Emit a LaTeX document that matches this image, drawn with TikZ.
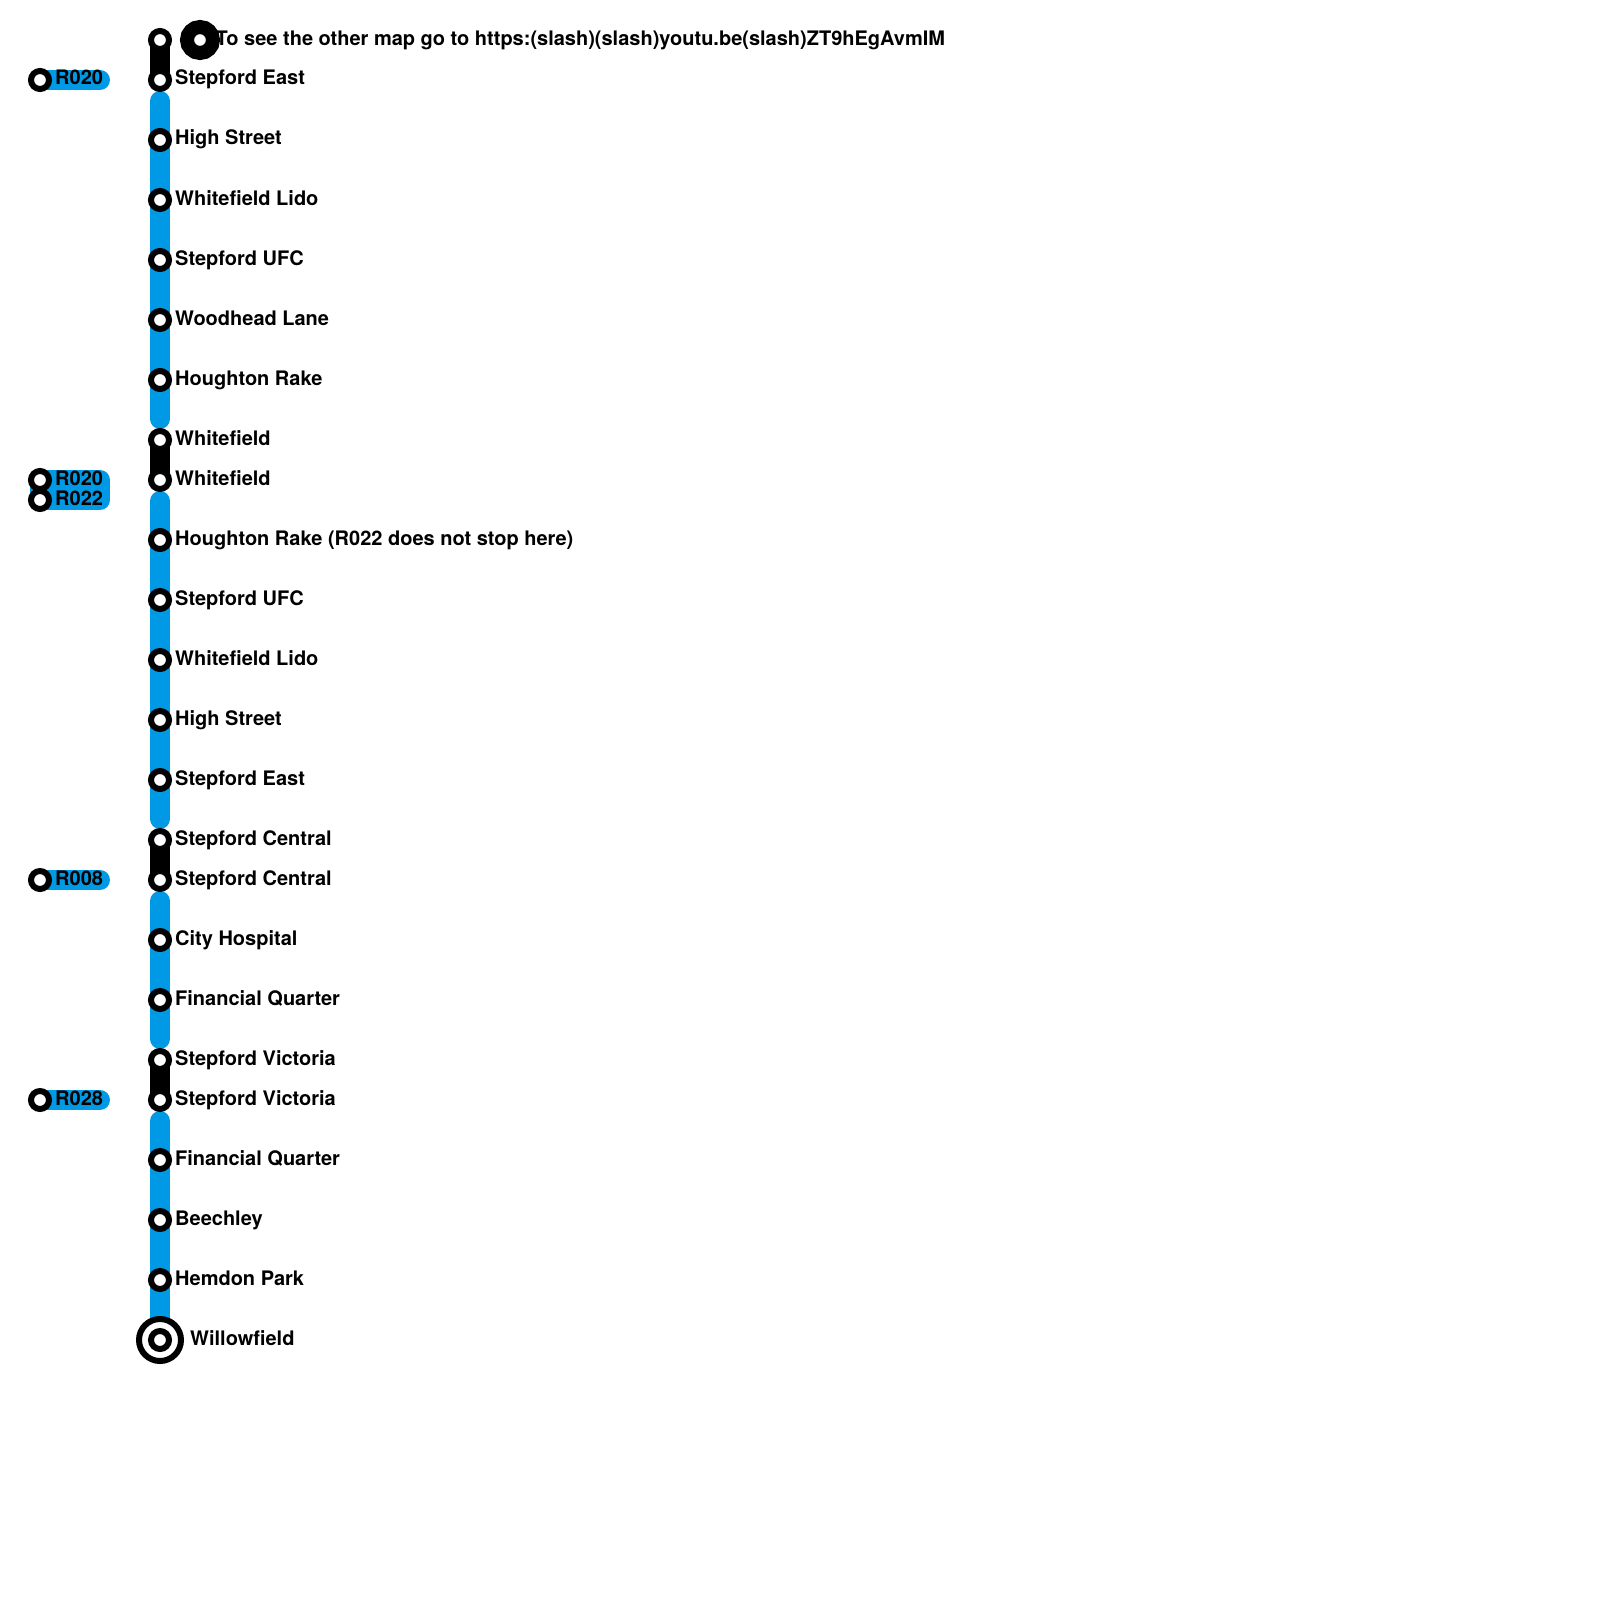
\documentclass[tikz,border=0pt]{standalone}
\usepackage{fontspec}
\setmainfont{TeX Gyre Heros}
\usetikzlibrary{backgrounds}

\definecolor{linkblue}{RGB}{0,153,229}
\tikzset{
  stop/.style={draw,circle,fill=white,line width=6pt,minimum size=18pt,inner sep=0pt},
  endstop/.style={draw,circle,fill=white,line width=6pt,minimum size=42pt,inner sep=0pt},
  otherstop/.style={draw,circle,fill=white,line width=14pt,minimum size=26pt,inner sep=0pt},
  stopname/.style={anchor=base west,inner sep=0pt,font=\bfseries\fontsize{20}{24}\selectfont},
  walk/.style={line width=20pt,line cap=round},
  ride/.style={line width=20pt,line cap=round,linkblue,shorten <=21pt,shorten >=21pt},
  tag/.style={line width=20pt,line cap=round,line join=round,linkblue}
}

\begin{document}
\begin{tikzpicture}[x=1pt,y=-1pt]
\useasboundingbox (0,0) rectangle (1600,1600);
% stops on the line
\node[stop] (S1) at (160,40) {};
\node[stop] (S2) at (160,80) {};
\node[stop] (S3) at (160,140) {};
\node[stop] (S4) at (160,200) {};
\node[stop] (S5) at (160,260) {};
\node[stop] (S6) at (160,320) {};
\node[stop] (S7) at (160,380) {};
\node[stop] (S8) at (160,440) {};
\node[stop] (S9) at (160,480) {};
\node[stop] (S10) at (160,540) {};
\node[stop] (S11) at (160,600) {};
\node[stop] (S12) at (160,660) {};
\node[stop] (S13) at (160,720) {};
\node[stop] (S14) at (160,780) {};
\node[stop] (S15) at (160,840) {};
\node[stop] (S16) at (160,880) {};
\node[stop] (S17) at (160,940) {};
\node[stop] (S18) at (160,1000) {};
\node[stop] (S19) at (160,1060) {};
\node[stop] (S20) at (160,1100) {};
\node[stop] (S21) at (160,1160) {};
\node[stop] (S22) at (160,1220) {};
\node[stop] (S23) at (160,1280) {};
\node[endstop] (S24) at (160,1340) {};
\node[stop] (S24i) at (160,1340) {};
\node[otherstop] (M) at (200,40) {};
% route tags
\node[stop] (R1) at (40,80) {};
\node[stop] (R2) at (40,480) {};
\node[stop] (R3) at (40,500) {};
\node[stop] (R4) at (40,880) {};
\node[stop] (R5) at (40,1100) {};
\coordinate (T1) at (100,80);
\coordinate (T2) at (100,480);
\coordinate (T3) at (100,500);
\coordinate (T4) at (100,880);
\coordinate (T5) at (100,1100);
% lines go underneath
\begin{scope}[on background layer]
\draw[walk] (S1.center) -- (S2.center);
\draw[walk] (S8.center) -- (S9.center);
\draw[walk] (S15.center) -- (S16.center);
\draw[walk] (S19.center) -- (S20.center);
\draw[ride] (S2.center) -- (S8.center);
\draw[ride] (S9.center) -- (S15.center);
\draw[ride] (S16.center) -- (S19.center);
\draw[ride,shorten >=0pt] (S20.center) -- (S24.center);
\draw[tag] (R1.center) -- (T1);
\draw[tag,fill=linkblue] (R2.center) -- (T2) -- (T3) -- (R3.center) -- cycle;
\draw[tag] (R4.center) -- (T4);
\draw[tag] (R5.center) -- (T5);
\end{scope}
% names
\node[stopname] (N0) at (215.5,45.4) {To see the other map go to https:(slash)(slash)youtu.be(slash)ZT9hEgAvmIM};
\node[stopname] (N2) at (175,85) {Stepford East};
\node[stopname] (N3) at (175,145) {High Street};
\node[stopname] (N4) at (175,205) {Whitefield Lido};
\node[stopname] (N5) at (175,265) {Stepford UFC};
\node[stopname] (N6) at (175,325) {Woodhead Lane};
\node[stopname] (N7) at (175,385) {Houghton Rake};
\node[stopname] (N8) at (175,445) {Whitefield};
\node[stopname] (N9) at (175,485) {Whitefield};
\node[stopname] (N10) at (175,545) {Houghton Rake (R022 does not stop here)};
\node[stopname] (N11) at (175,605) {Stepford UFC};
\node[stopname] (N12) at (175,665) {Whitefield Lido};
\node[stopname] (N13) at (175,725) {High Street};
\node[stopname] (N14) at (175,785) {Stepford East};
\node[stopname] (N15) at (175,845) {Stepford Central};
\node[stopname] (N16) at (175,885) {Stepford Central};
\node[stopname] (N17) at (175,945) {City Hospital};
\node[stopname] (N18) at (175,1005) {Financial Quarter};
\node[stopname] (N19) at (175,1065) {Stepford Victoria};
\node[stopname] (N20) at (175,1105) {Stepford Victoria};
\node[stopname] (N21) at (175,1165) {Financial Quarter};
\node[stopname] (N22) at (175,1225) {Beechley};
\node[stopname] (N23) at (175,1285) {Hemdon Park};
\node[stopname] (N24) at (190,1345) {Willowfield};
\node[stopname] (L1) at (55,85) {R020};
\node[stopname] (L2) at (55,485) {R020};
\node[stopname] (L3) at (55,505) {R022};
\node[stopname] (L4) at (55,885) {R008};
\node[stopname] (L5) at (55,1105) {R028};
\end{tikzpicture}
\end{document}
